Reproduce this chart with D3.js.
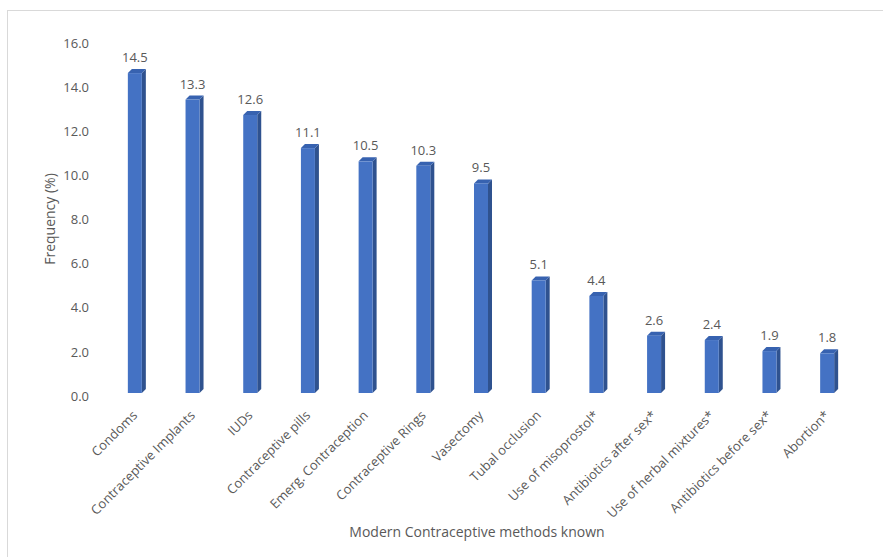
<!DOCTYPE html>
<html>
<head>
<meta charset="utf-8">
<script src="https://d3js.org/d3.v7.min.js"></script>
<style>
    body { margin: 0; background: #fff; }
    #chart-area { width: 883px; height: 557px; }
    text { font-family: "Open Sans", sans-serif; fill: #595959; }
</style>
</head>
<body>
<div id="chart-area"></div>
<script>

// data
let categories = ["Condoms", "Contraceptive Implants", "IUDs", "Contraceptive pills",
    "Emerg. Contraception", "Contraceptive Rings", "Vasectomy", "Tubal occlusion",
    "Use of misoprostol*", "Antibiotics after sex*", "Use of herbal mixtures*",
    "Antibiotics before sex*", "Abortion*"];
let frequencies = [14.5, 13.3, 12.6, 11.1, 10.5, 10.3, 9.5, 5.1, 4.4, 2.6, 2.4, 1.9, 1.8];
let yTicks = [0, 2, 4, 6, 8, 10, 12, 14, 16];

class BarChart3D {
    constructor(parentElement, cats, values) {
        this.parentElement = parentElement;
        this.data = cats.map((c, i) => ({key: c, value: values[i]}));
        this.initVis();
    }

    initVis() {
        let vis = this;

        vis.svg = d3.select("#" + vis.parentElement).append("svg")
            .attr("width", 883)
            .attr("height", 557);

        // chart border (only left/top show in the crop)
        vis.svg.append("rect")
            .attr("x", 7.5).attr("y", 10.5)
            .attr("width", 900).attr("height", 600)
            .attr("fill", "none")
            .attr("stroke", "#D9D9D9");

        vis.x = d3.scaleBand()
            .domain(categories)
            .range([108, 858]);

        vis.y = d3.scaleLinear()
            .domain([0, 16])
            .range([396, 43]);

        vis.yAxis = d3.axisLeft(vis.y)
            .tickValues(yTicks)
            .tickSize(0)
            .tickPadding(0)
            .tickFormat(d3.format(".1f"));

        vis.svg.append("g")
            .attr("class", "y-axis")
            .attr("transform", "translate(89,0)")
            .call(vis.yAxis)
            .call(g => g.select(".domain").remove())
            .selectAll("text")
            .attr("font-size", 13)
            .attr("font-family", null)
            .attr("fill", "#595959");

        // axis titles
        vis.svg.append("text")
            .attr("transform", "translate(55,219) rotate(-90)")
            .attr("text-anchor", "middle")
            .attr("font-size", 14)
            .text("Frequency (%)");

        vis.svg.append("text")
            .attr("x", 477)
            .attr("y", 537)
            .attr("text-anchor", "middle")
            .attr("font-size", 14)
            .text("Modern Contraceptive methods known");

        vis.updateVis();
    }

    updateVis() {
        let vis = this;
        let front = 14, depth = 4, lift = 3;

        let bar = vis.svg.selectAll(".bar")
            .data(vis.data)
            .enter()
            .append("g")
            .attr("class", "bar");

        let left = d => vis.x(d.key) + vis.x.bandwidth() / 2 - (front + depth) / 2;
        let top = d => vis.y(d.value) - lift;
        let base = vis.y(0) - lift;

        // side face
        bar.append("path")
            .attr("fill", "#2F528F")
            .attr("d", d => {
                let x0 = left(d) + front;
                return "M" + x0 + "," + top(d) + "L" + (x0 + depth) + "," + (top(d) - depth)
                    + "L" + (x0 + depth) + "," + (base - depth) + "L" + x0 + "," + base + "Z";
            });

        // top face
        bar.append("path")
            .attr("fill", "#3762B0")
            .attr("d", d => {
                let x0 = left(d);
                return "M" + x0 + "," + top(d) + "L" + (x0 + depth) + "," + (top(d) - depth)
                    + "L" + (x0 + front + depth) + "," + (top(d) - depth)
                    + "L" + (x0 + front) + "," + top(d) + "Z";
            });

        // front face
        bar.append("rect")
            .attr("fill", "#4472C4")
            .attr("x", d => left(d))
            .attr("y", d => top(d))
            .attr("width", front)
            .attr("height", d => base - top(d));

        // value labels
        bar.append("text")
            .attr("x", d => left(d) + front / 2)
            .attr("y", d => top(d) - 11)
            .attr("text-anchor", "middle")
            .attr("font-size", 13)
            .text(d => d3.format(".1f")(d.value));

        // category labels
        vis.svg.selectAll(".cat-label")
            .data(vis.data)
            .enter()
            .append("text")
            .attr("class", "cat-label")
            .attr("text-anchor", "end")
            .attr("font-size", 13)
            .attr("dy", "0.35em")
            .attr("transform", d => "translate(" + (vis.x(d.key) + vis.x.bandwidth() / 2 - 2) + ",413) rotate(-45)")
            .text(d => d.key);
    }
}

new BarChart3D("chart-area", categories, frequencies);
</script>
</body>
</html>
